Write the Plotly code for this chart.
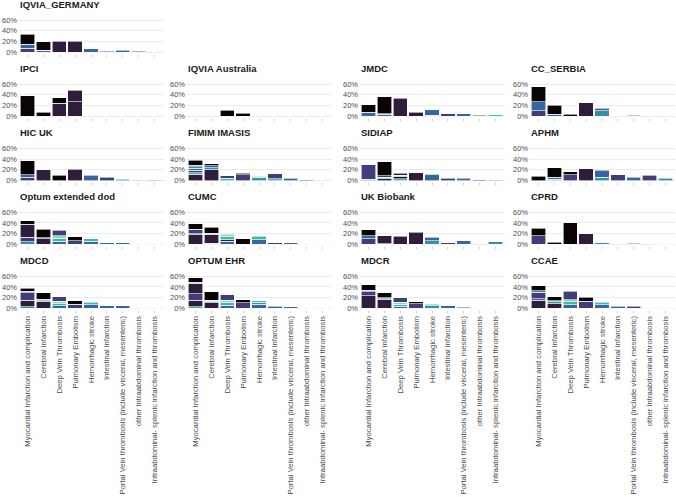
import plotly.graph_objects as go

categories = [
    "Myocardial Infarction and complication",
    "Cerebral infarction",
    "Deep Vein Thrombosis",
    "Pulmonary Embolism",
    "Hemorrhagic stroke",
    "Intestinal infarction",
    "Portal Vein thrombosis (include visceral, mesenteric)",
    "other Intraabdominal thrombosis",
    "Intraabdominal- splenic infarction and thrombosis",
]

# each bar: stacked segments bottom -> top as (percent, fill level 0..7)
IQVIA_GERMANY = [[(7, 2), (8, 3), (18, 0)], [(2, 3), (1, 5), (16, 0)], [(20, 1)], [(20, 1)],
                 [(6, 3)], [(1, 2)], [(3, 3)], [(1, 2)], []]
IPCI = [[(38, 0)], [(7, 0)], [(24, 1), (10, 0)], [(27, 1), (21, 1)], [], [], [], [], []]
IQVIA_AUSTRALIA = [[], [], [(11, 0)], [(5, 0)], [], [], [], [], []]
JMDC = [[(7, 3), (14, 0)], [(3, 3), (1, 5), (32, 0)], [(33, 1)], [(7, 1)], [(1, 5), (11, 3)],
        [(4, 2)], [(4, 3)], [(1, 2)], [(2, 5)]]
CC_SERBIA = [[(10, 2), (17, 3), (28, 0)], [(3, 3), (17, 0)], [(3, 0)], [(25, 1)], [(10, 4), (5, 3)],
             [], [(1.5, 4)], [], []]
HIC_UK = [[(6, 2), (5, 3), (26, 0)], [(20, 1)], [(10, 0)], [(21, 1)], [(10, 3)], [(6, 2)],
          [(2, 4)], [(0.5, 2)], [(1.5, 5)]]
FIMIM_IMASIS = [[(12, 1), (3, 5), (4, 2), (4, 3), (3, 4), (3, 2), (9, 0)],
                [(20, 1), (4, 4), (4, 3), (3, 0)], [(4, 5), (5, 2)], [(11, 2), (3, 0)],
                [(5, 4), (3, 6)], [(3, 5), (10, 2)], [(4, 3)], [(1, 2)], []]
SIDIAP = [[(2, 5), (28, 2)], [(3, 1), (3, 5), (3, 2), (26, 0)], [(3, 5), (5, 0), (2, 6), (4, 1)],
          [(15, 1)], [(11, 3), (2, 5)], [(4, 2)], [(4, 3)], [(1, 2)], [(1, 5)]]
APHM = [[(8, 0)], [(2, 5), (4, 3), (18, 0)], [(11, 2), (5, 0)], [(22, 1)], [(6, 4), (13, 3)],
        [(11, 2)], [(6, 3)], [(10, 2)], [(4, 4)]]
OPTUM_EXTENDED_DOD = [[(5, 4), (8, 2), (25, 1), (6, 0)], [(10, 1), (2, 3), (16, 0)],
                      [(6, 3), (5, 5), (5, 6), (10, 2)], [(7, 2), (7, 0)], [(6, 3), (4, 5)],
                      [(3, 3)], [(3, 3)], [(1, 2)], [(1, 5)]]
CUMC = [[(18, 1), (2, 4), (8, 2), (11, 0)], [(2, 5), (17, 1), (2, 4), (11, 0)],
        [(6, 3), (3, 1), (5, 5), (5, 6)], [(10, 0)], [(9, 3), (6, 5)], [(3, 2)], [(3, 3)],
        [(1, 2)], [(0.5, 5)]]
UK_BIOBANK = [[(10, 2), (6, 3), (11, 0)], [(1, 4), (15, 1)], [(15, 1)], [(23, 1)],
              [(7, 4), (6, 3)], [(3, 2)], [(7, 3)], [], [(4.5, 4)]]
CPRD = [[(16, 2), (14, 0)], [(4, 0)], [(40, 0)], [(20, 1)], [(3, 4)], [], [(2, 4)], [], [(1, 5)]]
MDCD = [[(3, 4), (12, 1), (14, 2), (3, 3), (6, 0)], [(12, 1), (2, 5), (3, 3), (12, 0)],
        [(5, 3), (4, 5), (4, 6), (9, 2)], [(8, 2), (6, 0)], [(7, 3), (4, 5)], [(5, 3)],
        [(5, 3)], [(1, 2)], [(1, 5)]]
OPTUM_EHR = [[(3, 5), (12, 1), (12, 2), (20, 1), (2, 3), (8, 0)], [(10, 1), (3, 3), (2, 5), (16, 0)],
             [(6, 3), (5, 5), (4, 6), (10, 2)], [(10, 2), (6, 0)], [(8, 3), (3, 4), (3, 5)],
             [(4, 3)], [(3, 3)], [(1, 2)], [(1, 5)]]
MDCR = [[(24, 1), (7, 2), (3, 3), (10, 0)], [(16, 1), (2, 5), (2, 3), (9, 0)],
        [(4, 3), (4, 5), (3, 6), (9, 2)], [(9, 2), (3, 0)], [(5, 4), (3, 5)], [(5, 3)],
        [(2, 2)], [(0.5, 2)], [(0.5, 5)]]
CCAE = [[(15, 1), (3, 3), (12, 2), (3, 4), (9, 0)], [(9, 1), (3, 4), (2, 5), (8, 0)],
        [(7, 3), (5, 5), (4, 6), (16, 2)], [(13, 2), (8, 0)], [(7, 3), (4, 5)], [(4, 3)],
        [(4, 2)], [(1, 2)], [(1, 5)]]

panel_names = ["IQVIA_GERMANY", "IPCI", "IQVIA Australia", "JMDC", "CC_SERBIA",
               "HIC UK", "FIMIM IMASIS", "SIDIAP", "APHM",
               "Optum extended dod", "CUMC", "UK Biobank", "CPRD",
               "MDCD", "OPTUM EHR", "MDCR", "CCAE"]
panel_data = [IQVIA_GERMANY, IPCI, IQVIA_AUSTRALIA, JMDC, CC_SERBIA,
              HIC_UK, FIMIM_IMASIS, SIDIAP, APHM,
              OPTUM_EXTENDED_DOD, CUMC, UK_BIOBANK, CPRD,
              MDCD, OPTUM_EHR, MDCR, CCAE]

y_ticks = [0, 20, 40, 60]
y_tick_labels = ["0%", "20%", "40%", "60%"]

MAKO = ["#0B0405", "#2E1E3C", "#413D7B", "#37659E", "#348FA7", "#40B7AD", "#8AD9B1", "#DEF5E5"]
W, H = 676, 497
col_left = [18, 186, 359, 529]
col_w = 146
row_zero = [52, 116, 180.5, 244.3, 308.3]   # pixel y of the 0% line per row
px_per_pct = 32 / 60
y_range = [-3, 63]
font = "Liberation Sans, Arial, sans-serif"

fig = go.Figure()
layout = {}
for p, (name, bars) in enumerate(zip(panel_names, panel_data)):
    row, col = (0, 0) if p == 0 else (1 + (p - 1) // 4, (p - 1) % 4)
    n = p + 1
    zero = row_zero[row]
    top = zero - y_range[1] * px_per_pct
    bot = zero - y_range[0] * px_per_pct
    x0 = col_left[col]
    x1 = min(x0 + col_w, W)

    nseg = max([len(b) for b in bars] + [0])
    for k in range(nseg):
        ys = [b[k][0] if k < len(b) else None for b in bars]
        cs = [MAKO[b[k][1]] if k < len(b) else "white" for b in bars]
        fig.add_trace(go.Bar(
            x=list(range(len(categories))), y=ys,
            marker=dict(color=cs, line=dict(color="white", width=0.6)),
            xaxis=f"x{n}", yaxis=f"y{n}", showlegend=False, hoverinfo="y",
        ))

    bottom_row = (row == 4)
    layout[f"xaxis{n}"] = dict(
        domain=[x0 / W, x1 / W], anchor=f"y{n}", range=[-0.6, 8.6],
        tickmode="array", tickvals=list(range(len(categories))),
        ticktext=categories if bottom_row else [""] * len(categories),
        showticklabels=bottom_row, tickangle=-90,
        ticks="outside", ticklen=2, tickcolor="#cccccc", tickwidth=0.6,
        showgrid=False, zeroline=False, showline=False,
        tickfont=dict(family=font, size=7.7, color="#4d4d4d"), automargin=False,
    )
    layout[f"yaxis{n}"] = dict(
        domain=[1 - bot / H, 1 - top / H], anchor=f"x{n}", range=y_range,
        tickmode="array", tickvals=y_ticks, ticktext=y_tick_labels,
        showgrid=True, gridcolor="#ebebeb", gridwidth=0.6, zeroline=False, showline=False,
        tickfont=dict(family=font, size=7.5, color="#4d4d4d"), automargin=False,
    )
    fig.add_annotation(
        text=f"<b>{name}</b>", x=x0 / W, y=1 - (zero - 60 * px_per_pct - 16) / H,
        xref="paper", yref="paper", xanchor="left", yanchor="middle", showarrow=False,
        font=dict(family=font, size=9.5, color="#1a1a1a"),
    )

fig.update_layout(
    **layout,
    barmode="stack", bargap=0.1,
    width=W, height=H, margin=dict(l=0, r=0, t=0, b=0),
    paper_bgcolor="white", plot_bgcolor="white",
)
fig.write_html("out.html", config={"displayModeBar": False},
               post_script="document.body.style.margin = '0';")
